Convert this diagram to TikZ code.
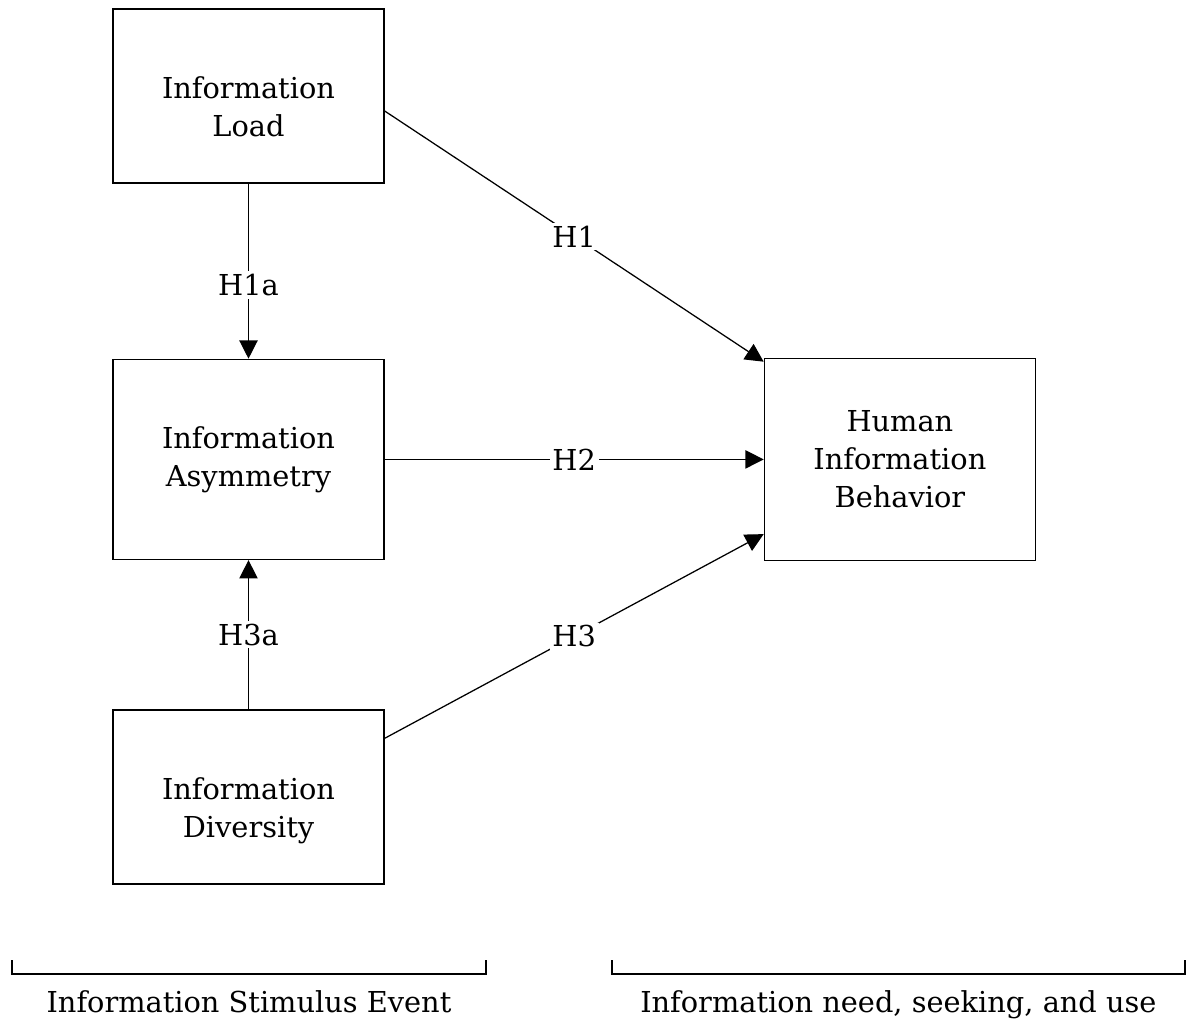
\documentclass[tikz,border=0pt]{standalone}
\usepackage{fontspec}
\setmainfont{DejaVu Serif}
\usetikzlibrary{arrows.meta, positioning}

% two lines of box text set a little lower than the box centre
\newcommand{\lowtext}[1]{\raisebox{-0.35cm}[\height][\depth]{\begin{tabular}{@{}c@{}}#1\end{tabular}}}

\begin{document}
\begin{tikzpicture}[node distance=1.5cm, font=\fontsize{20.5}{27}\selectfont]
\tikzstyle{box} = [rectangle, draw, line width=1pt, align=center, inner sep=0pt, minimum width=6.775cm, minimum height=4.35cm]
\tikzstyle{line} = [draw, line width=0.9pt, -{Triangle[length=13pt, width=13pt]}]
\tikzstyle{hyp} = [fill=white, inner sep=2pt]
\tikzstyle{brace} = [draw, line width=1.3pt]

\useasboundingbox (0,0) rectangle (29.75,-25.625);

\node [box] (load) at (6.2125,-2.4) {\lowtext{Information\\Load}};
\node [box, minimum height=5cm, below=4.375cm of load] (asym) {Information\\Asymmetry};
\node [box, below=3.725cm of asym] (div) {\lowtext{Information\\Diversity}};
\node [box, minimum height=5.05cm, right=9.475cm of asym] (human) {Human\\Information\\Behavior};

\path [line] (load) -- node [hyp, pos=0.58] {H1a} (asym);
\path [line] (div) -- node [hyp] {H3a} (asym);
\path [line] ([yshift=-0.375cm]load.east) -- node [hyp] {H1} ([yshift=-0.1cm]human.north west);
\path [line] (asym.east) -- node [hyp] {H2} (asym.east -| human.west);
\path [line] ([yshift=1.4625cm]div.east) -- node [hyp] {H3} ([yshift=0.675cm]human.south west);

% brackets under the two groups
\coordinate (la) at (0.3,-24.0);
\coordinate (lb) at (12.15,-24.0);
\coordinate (ra) at (15.3,-24.0);
\coordinate (rb) at (29.625,-24.0);
\coordinate (lmid) at (6.225,-24.35);
\coordinate (rmid) at (22.46,-24.35);
\path [brace] (la) -- ++(0,-0.35) -| (lb);
\path [brace] (ra) -- ++(0,-0.35) -| (rb);

\node [below=0.3cm of lmid] (lcap) {Information Stimulus Event};
\node [below=0.3cm of rmid] (rcap) {Information need, seeking, and use};
\end{tikzpicture}
\end{document}
